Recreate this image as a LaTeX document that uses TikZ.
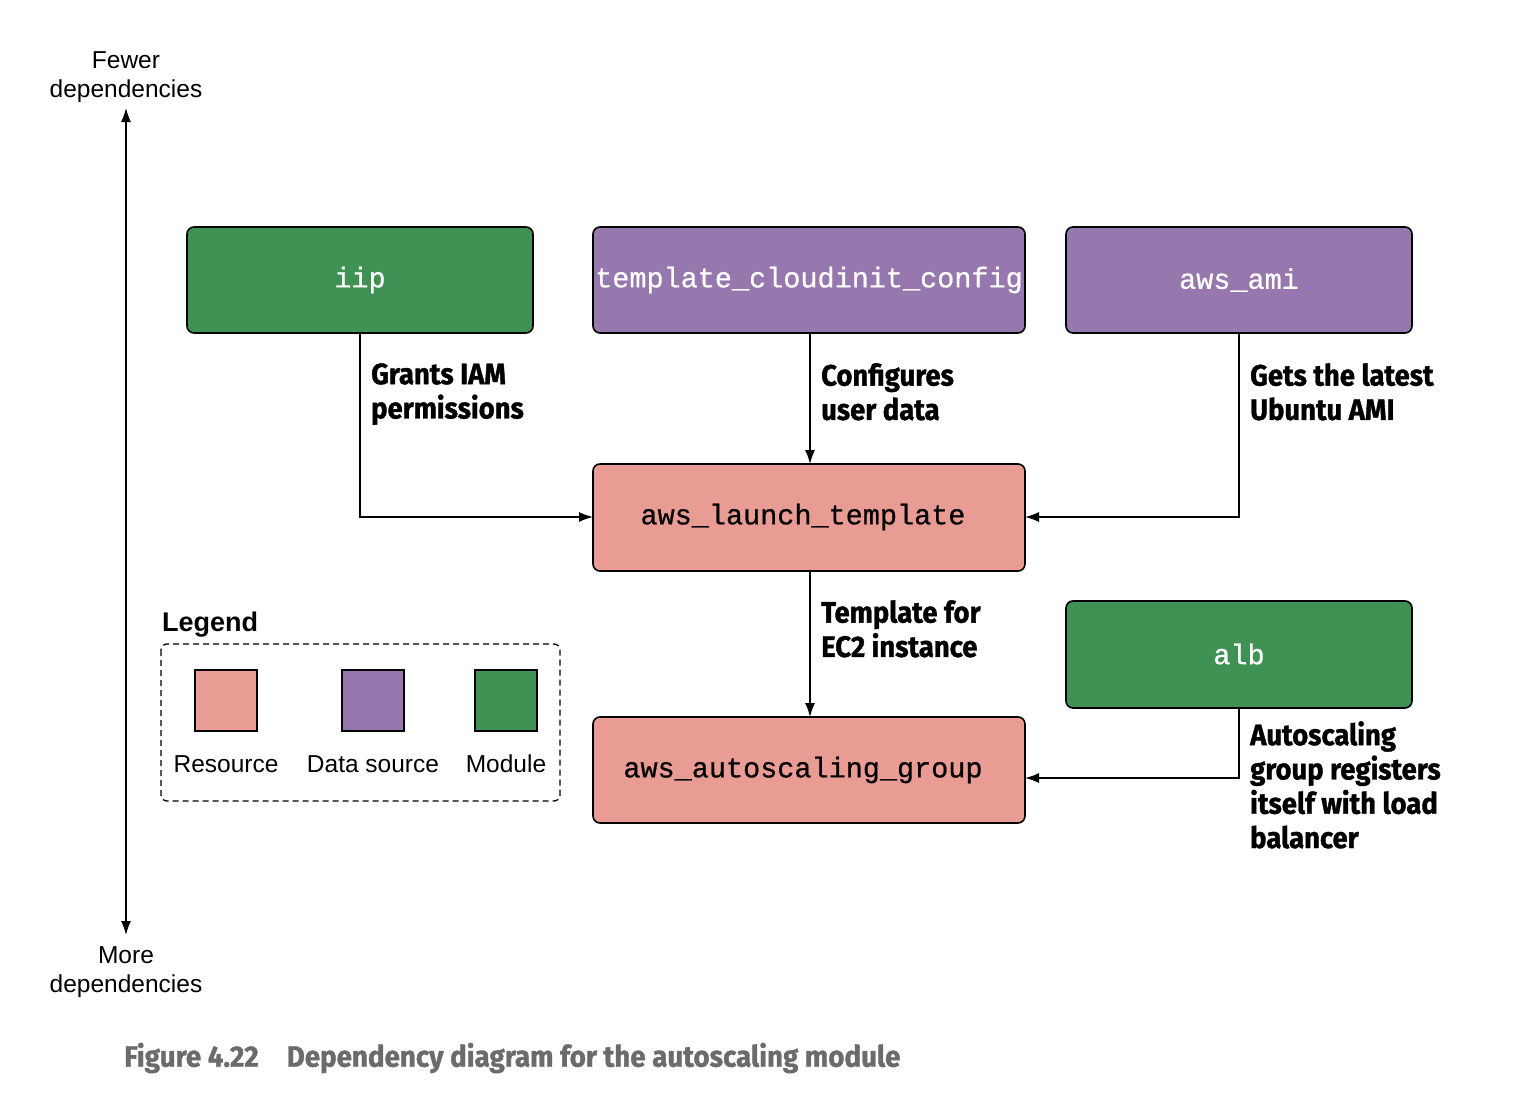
\documentclass[tikz,border=0pt]{standalone}
\usepackage{fontspec}
\setmainfont{Liberation Sans}
\newfontfamily\codefont[FakeBold=0.6]{Liberation Mono}
\newfontfamily\notefont[FakeStretch=0.93,BoldFeatures={FakeBold=1.2}]{Fira Sans}
\newfontfamily\capfont[FakeStretch=0.94,BoldFeatures={FakeBold=1.2}]{Fira Sans}
\usetikzlibrary{arrows.meta}
\definecolor{modgreen}{HTML}{3F9254}
\definecolor{datapurple}{HTML}{9677AE}
\definecolor{ressalmon}{HTML}{E89C93}
\definecolor{capgray}{HTML}{6B6B6B}
\begin{document}
\begin{tikzpicture}[x=1pt,y=-1pt,
  box/.style={draw=black,line width=1.6pt,rounded corners=7pt},
  code/.style={font=\codefont\fontsize{28.5}{30}\selectfont},
  note/.style={anchor=north west,align=left,inner sep=0pt,
    font=\notefont\bfseries\fontsize{29.5}{34.3}\selectfont},
  link/.style={line width=1.5pt,-{Latex[length=14pt,width=10pt]}},
  plain/.style={font=\fontsize{24.5}{29.5}\selectfont,align=center,inner sep=0pt}]
\useasboundingbox (0,0) rectangle (1534,1108);

% dependency axis
\node[plain] (fewer) at (126,77) {Fewer\\dependencies};
\node[plain] (more) at (126,972) {More\\dependencies};
\coordinate (axtop) at (126,108);
\coordinate (axbot) at (126,935);
\draw[line width=1.5pt,{Latex[length=14pt,width=10pt]}-{Latex[length=14pt,width=10pt]}] (axtop) -- (axbot);

% top row
\path[box,fill=modgreen] (187,227) rectangle (533,333);
\node[code,text=white] (iip) at (360,280) {iip};
\path[box,fill=datapurple] (593,227) rectangle (1025,333);
\node[code,text=white] (tcc) at (809,280) {template\_cloudinit\_config};
\path[box,fill=datapurple] (1066,227) rectangle (1412,333);
\node[code,text=white] (ami) at (1239,280) {aws\_ami};

% resources
\path[box,fill=ressalmon] (593,464) rectangle (1025,571);
\node[code] (alt) at (803,517) {aws\_launch\_template};
\path[box,fill=ressalmon] (593,717) rectangle (1025,823);
\node[code] (asg) at (803,770) {aws\_autoscaling\_group};
\path[box,fill=modgreen] (1066,601) rectangle (1412,708);
\node[code,text=white] (alb) at (1239,654) {alb};

% named anchor points on the box edges
\coordinate (iipS) at (360,333);
\coordinate (tccS) at (810,333);
\coordinate (amiS) at (1239,333);
\coordinate (altN) at (810,464);
\coordinate (altW) at (593,517);
\coordinate (altE) at (1025,517);
\coordinate (altS) at (810,571);
\coordinate (asgN) at (810,717);
\coordinate (asgE) at (1025,778);
\coordinate (albS) at (1239,708);

% connectors
\draw[link] (iipS) |- (altW);
\draw[link] (tccS) -- (altN);
\draw[link] (amiS) |- (altE);
\draw[link] (altS) -- (asgN);
\draw[link] (albS) |- (asgE);

% connector notes
\node[note] (n1) at (371,363) {Grants IAM\\permissions};
\node[note] (n2) at (821,363) {Configures\\user data};
\node[note] (n3) at (1250,363) {Gets the latest\\Ubuntu AMI};
\node[note] (n4) at (821,600) {Template for\\EC2 instance};
\node[note] (n5) at (1250,721) {Autoscaling\\group registers\\itself with load\\balancer};

% legend
\node[anchor=west,inner sep=0pt,font=\bfseries\fontsize{27}{30}\selectfont] (legtitle) at (162,625) {Legend};
\draw[line width=1.3pt,dashed,dash pattern=on 6pt off 4pt,rounded corners=6pt] (161,644) rectangle (560,801);
\draw[line width=1.5pt,fill=ressalmon] (195,670) rectangle (257,731);
\draw[line width=1.5pt,fill=datapurple] (342,670) rectangle (404,731);
\draw[line width=1.5pt,fill=modgreen] (475,670) rectangle (537,731);
\node[plain] (lres) at (226,764) {Resource};
\node[plain] (ldata) at (373,764) {Data source};
\node[plain] (lmod) at (506,764) {Module};

% caption
\node[anchor=west,inner sep=0pt,text=capgray,font=\capfont\bfseries\fontsize{29.5}{31}\selectfont] (cap) at (124,1058) {Figure 4.22\hspace{28pt}Dependency diagram for the autoscaling module};
\end{tikzpicture}
\end{document}
